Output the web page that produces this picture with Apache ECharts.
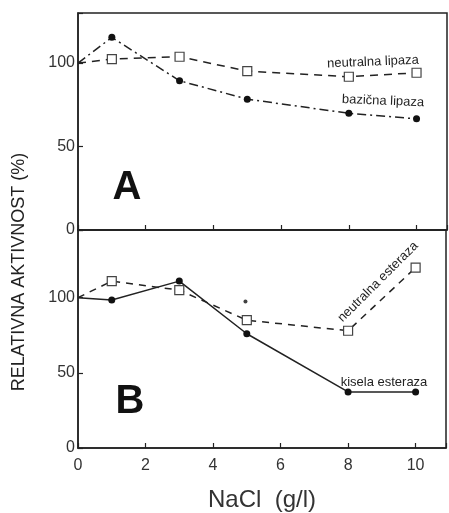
<!DOCTYPE html>
<html>
<head>
<meta charset="utf-8">
<script src="https://cdn.jsdelivr.net/npm/echarts@6/dist/echarts.min.js"></script>
<style>
html,body{margin:0;padding:0;background:#fff;}
#c{width:449px;height:513px;}
</style>
</head>
<body>
<div id="c"></div>
<script>
// NaCl concentrations (g/l)
const nacl = [0, 1, 3, 5, 8, 10];
// Panel A
const neutralnaLipaza = [100, 102.4, 103.8, 95.2, 91.8, 94.2];
const bazicnaLipaza   = [100, 115.4, 89.4, 78.4, 69.9, 66.6];
// Panel B
const neutralnaEsteraza = [100, 111, 105, 85, 78, 120];
const kiselaEsteraza    = [100, 98.5, 111, 76, 37.3, 37.3];
const strayDot = [[4.96, 97.5]];
const yTicks = [0, 50, 100];
const xTicks = [0, 2, 4, 6, 8, 10];

const ink = '#222';
const font = '"Liberation Sans", Arial, sans-serif';

function pts(xs, ys) {
  return xs.map((x, i) => i === 0 ? {value: [x, ys[i]], symbol: 'none'} : [x, ys[i]]);
}

const chart = echarts.init(document.getElementById('c'));

function xAxisCfg(idx, showLabels) {
  return {
    type: 'value', gridIndex: idx, min: 0, max: 10.9, interval: 2,
    axisLine: {show: true, lineStyle: {color: ink, width: 1.5}},
    axisTick: {show: true, inside: true, length: 5, lineStyle: {color: ink, width: 1.2}},
    splitLine: {show: false},
    axisLabel: {
      show: showLabels, color: '#333', fontSize: 16, fontFamily: font, margin: 10,
      formatter: v => xTicks.indexOf(v) >= 0 ? String(v) : ''
    },
    name: showLabels ? 'NaCl  (g/l)' : '',
    nameLocation: 'middle', nameGap: 40,
    nameTextStyle: {color: '#333', fontSize: 24, fontFamily: font}
  };
}
function yAxisCfg(idx, max) {
  return {
    type: 'value', gridIndex: idx, min: 0, max: max, interval: 50,
    axisLine: {show: true, lineStyle: {color: ink, width: 1.5}},
    axisTick: {show: true, inside: true, length: 5, lineStyle: {color: ink, width: 1.2}},
    splitLine: {show: false},
    axisLabel: {
      color: '#333', fontSize: 16, fontFamily: font, margin: 3,
      formatter: v => yTicks.indexOf(v) >= 0 ? String(v) : ''
    }
  };
}

const sq = {symbol: 'rect', symbolSize: 9, itemStyle: {color: '#fff', borderColor: '#444', borderWidth: 1.2}};
const dot = {symbol: 'circle', symbolSize: 7, itemStyle: {color: '#111'}};

chart.setOption({
  animation: false,
  grid: [
    {left: 78, top: 13, width: 369, height: 217, show: true, borderColor: ink, borderWidth: 1.5},
    {left: 78, top: 230, width: 369, height: 219, show: true, borderColor: ink, borderWidth: 1.5}
  ],
  xAxis: [xAxisCfg(0, false), xAxisCfg(1, true)],
  yAxis: [yAxisCfg(0, 130), yAxisCfg(1, 145)],
  series: [
    Object.assign({type: 'line', name: 'neutralna lipaza', xAxisIndex: 0, yAxisIndex: 0,
      data: pts(nacl, neutralnaLipaza),
      lineStyle: {color: ink, width: 1.5, type: [8, 6]}}, sq),
    Object.assign({type: 'line', name: 'bazična lipaza', xAxisIndex: 0, yAxisIndex: 0,
      data: pts(nacl, bazicnaLipaza),
      lineStyle: {color: ink, width: 1.5, type: [9, 4, 2, 4]}}, dot),
    Object.assign({type: 'line', name: 'neutralna esteraza', xAxisIndex: 1, yAxisIndex: 1,
      data: pts(nacl, neutralnaEsteraza),
      lineStyle: {color: ink, width: 1.5, type: [7, 6]}}, sq),
    Object.assign({type: 'line', name: 'kisela esteraza', xAxisIndex: 1, yAxisIndex: 1,
      data: pts(nacl, kiselaEsteraza),
      lineStyle: {color: ink, width: 1.5}}, dot),
    {type: 'scatter', xAxisIndex: 1, yAxisIndex: 1, data: strayDot, symbolSize: 4, itemStyle: {color: '#111'}}
  ],
  graphic: [
    {type: 'text', x: 19, y: 272, rotation: Math.PI / 2,
      style: {text: 'RELATIVNA AKTIVNOST (%)', font: '18px ' + font, fill: '#222', textAlign: 'center', textVerticalAlign: 'middle'}},
    {type: 'text', x: 127, y: 188,
      style: {text: 'A', font: 'bold 40px ' + font, fill: '#111', textAlign: 'center', textVerticalAlign: 'middle'}},
    {type: 'text', x: 130, y: 402,
      style: {text: 'B', font: 'bold 40px ' + font, fill: '#111', textAlign: 'center', textVerticalAlign: 'middle'}},
    {type: 'text', x: 373, y: 62, rotation: 0.04,
      style: {text: 'neutralna lipaza', font: '13px ' + font, fill: '#222', textAlign: 'center', textVerticalAlign: 'middle'}},
    {type: 'text', x: 383, y: 101, rotation: -0.04,
      style: {text: 'bazična lipaza', font: '13px ' + font, fill: '#222', textAlign: 'center', textVerticalAlign: 'middle'}},
    {type: 'text', x: 384, y: 382,
      style: {text: 'kisela esteraza', font: '13px ' + font, fill: '#222', textAlign: 'center', textVerticalAlign: 'middle'}},
    {type: 'text', x: 378, y: 282, rotation: Math.PI / 4,
      style: {text: 'neutralna esteraza', font: '13px ' + font, fill: '#222', textAlign: 'center', textVerticalAlign: 'middle'}}
  ]
});
</script>
</body>
</html>
